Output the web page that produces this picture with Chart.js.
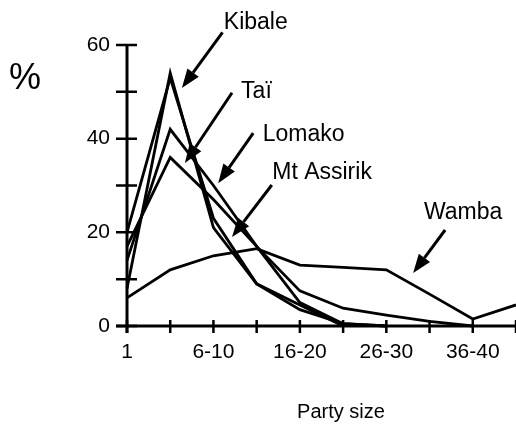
<!DOCTYPE html>
<html>
<head>
<meta charset="utf-8">
<script src="https://cdn.jsdelivr.net/npm/chart.js@4/dist/chart.umd.min.js"></script>
<style>
  html, body { margin: 0; padding: 0; background: #fff; }
  #wrap { width: 516px; height: 434px; position: relative; }
</style>
</head>
<body>
<div id="wrap"><canvas id="c"></canvas></div>
<script>
// ---- data ----
const categories = ['1', '2-5', '6-10', '11-15', '16-20', '21-25', '26-30', '31-35', '36-40', '41-45'];
const xTickLabels = ['1', '', '6-10', '', '16-20', '', '26-30', '', '36-40', ''];
const yTickLabels = { 0: '0', 20: '20', 40: '40', 60: '60' };

const kibale    = [8, 54, 21, 9, 3.5, 0.5, 0, null, null, null];
const tai       = [20, 53, 23, 9, 4.5, 0, null, null, null, null];
const lomako    = [14, 42, 30, 17, 7.5, 3.8, 2.3, 1, 0, null];
const mtAssirik = [17, 36, 27, 17, 5, 0.5, 0, null, null, null];
const wamba     = [6, 12, 15, 16.5, 13, 12.5, 12, 6.8, 1.5, 4.5];

const seriesNames = ['Kibale', 'Taï', 'Lomako', 'Mt Assirik', 'Wamba'];
const seriesData = [kibale, tai, lomako, mtAssirik, wamba];

// annotation label anchors and arrows, in data units (x = category index, y = %)
const labelPos   = [[2.24, 64.7], [2.64, 50.0], [3.14, 40.8], [3.36, 32.7], [6.87, 24.3]];
const arrowFrom  = [[2.21, 62.7], [2.43, 49.8], [2.92, 41.2], [3.35, 30.1], [7.36, 20.5]];
const arrowTo    = [[1.27, 50.8], [1.34, 34.8], [2.11, 30.5], [2.43, 19.0], [6.62, 11.3]];

const FONT = "'Liberation Sans', Arial, Helvetica, sans-serif";

const axesPlugin = {
  id: 'axesPlugin',
  afterDraw(chart) {
    const ctx = chart.ctx;
    const xs = chart.scales.x, ys = chart.scales.y;
    const area = chart.chartArea;
    ctx.save();
    ctx.strokeStyle = '#000';
    ctx.fillStyle = '#000';
    ctx.lineCap = 'butt';
    // axis lines
    ctx.lineWidth = 3;
    ctx.beginPath();
    ctx.moveTo(area.left, ys.getPixelForValue(60) - 1);
    ctx.lineTo(area.left, area.bottom + 7);
    ctx.moveTo(area.left - 11, area.bottom);
    ctx.lineTo(area.right, area.bottom);
    ctx.stroke();
    // y ticks (crossing)
    ctx.lineWidth = 2.5;
    ctx.beginPath();
    for (let v = 0; v <= 60; v += 10) {
      const py = ys.getPixelForValue(v);
      ctx.moveTo(area.left - 11, py);
      ctx.lineTo(area.left + 10, py);
    }
    // x ticks (crossing)
    for (let i = 0; i < categories.length; i++) {
      const px = xs.getPixelForValue(i);
      ctx.moveTo(px, area.bottom - 6);
      ctx.lineTo(px, area.bottom + 7);
    }
    ctx.stroke();

    // annotations
    ctx.font = '23px ' + FONT;
    ctx.textBaseline = 'middle';
    ctx.textAlign = 'left';
    for (let i = 0; i < seriesNames.length; i++) {
      const tx = xs.getPixelForValue(labelPos[i][0]);
      const ty = ys.getPixelForValue(labelPos[i][1]);
      ctx.fillText(seriesNames[i], tx, ty);
      const x1 = xs.getPixelForValue(arrowFrom[i][0]), y1 = ys.getPixelForValue(arrowFrom[i][1]);
      const x2 = xs.getPixelForValue(arrowTo[i][0]),   y2 = ys.getPixelForValue(arrowTo[i][1]);
      const ang = Math.atan2(y2 - y1, x2 - x1);
      const headLen = 19, headW = 7;
      const bx = x2 - headLen * Math.cos(ang), by = y2 - headLen * Math.sin(ang);
      ctx.lineWidth = 3;
      ctx.beginPath();
      ctx.moveTo(x1, y1);
      ctx.lineTo(bx, by);
      ctx.stroke();
      ctx.beginPath();
      ctx.moveTo(x2, y2);
      ctx.lineTo(bx + headW * Math.sin(ang), by - headW * Math.cos(ang));
      ctx.lineTo(bx - headW * Math.sin(ang), by + headW * Math.cos(ang));
      ctx.closePath();
      ctx.fill();
    }

    // axis titles
    ctx.font = '36px ' + FONT;
    ctx.textAlign = 'center';
    ctx.fillText('%', 25, 79);
    ctx.font = '20px ' + FONT;
    ctx.fillText('Party size', 341, 412);
    ctx.restore();
  }
};

new Chart(document.getElementById('c'), {
  type: 'line',
  data: {
    labels: categories,
    datasets: seriesData.map((d, i) => ({
      label: seriesNames[i],
      data: d,
      borderColor: '#000',
      backgroundColor: '#000',
      borderWidth: 2.8,
      pointRadius: 0,
      tension: 0,
      spanGaps: false,
      clip: false
    }))
  },
  plugins: [axesPlugin],
  options: {
    responsive: true,
    maintainAspectRatio: false,
    animation: false,
    layout: { padding: { top: 45, right: 0, left: 0, bottom: 0 } },
    plugins: { legend: { display: false }, tooltip: { enabled: false } },
    scales: {
      x: {
        type: 'category',
        offset: false,
        grid: { display: false, drawTicks: false },
        border: { display: false },
        afterFit(s) { s.height = 108; s.paddingLeft = 0; s.paddingRight = 0; },
        ticks: {
          autoSkip: false,
          maxRotation: 0,
          padding: 14,
          color: '#000',
          font: { family: FONT, size: 21 },
          callback: (v, i) => xTickLabels[i]
        }
      },
      y: {
        min: 0, max: 60,
        grid: { display: false, drawTicks: false },
        border: { display: false },
        afterFit(s) { s.width = 127; s.paddingTop = 0; s.paddingBottom = 0; },
        ticks: {
          stepSize: 10,
          padding: 17,
          color: '#000',
          font: { family: FONT, size: 21 },
          callback: (v) => (yTickLabels[v] !== undefined ? yTickLabels[v] : '')
        }
      }
    }
  }
});
</script>
</body>
</html>
